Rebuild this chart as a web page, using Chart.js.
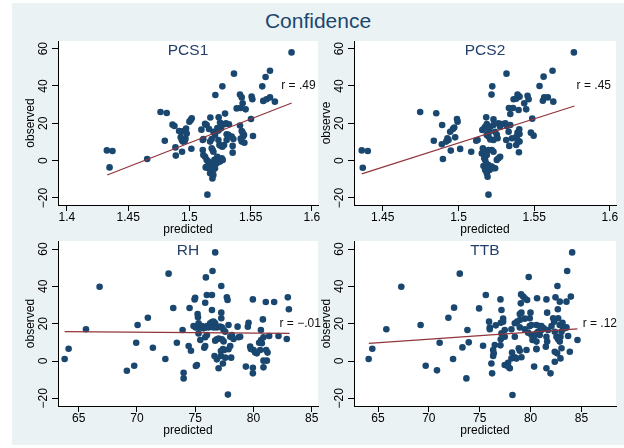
<!DOCTYPE html>
<html><head><meta charset="utf-8">
<script src="https://cdn.jsdelivr.net/npm/chart.js@4/dist/chart.umd.min.js"></script>
<style>
html,body{margin:0;padding:0;width:624px;height:448px;overflow:hidden;background:#ffffff;}
#bg{position:absolute;left:12px;top:3px;width:612px;height:442px;background:#eaf2f3;}
#title{position:absolute;left:12px;width:612px;top:9px;text-align:center;font-family:'Liberation Sans',Arial,sans-serif;font-size:21px;color:#1a476f;line-height:24px;}
canvas{position:absolute;}
</style></head>
<body>
<div id="bg"></div>
<div id="title">Confidence</div>
<canvas id="c1"></canvas><canvas id="c2"></canvas><canvas id="c3"></canvas><canvas id="c4"></canvas>
<script>
// ---------- data ----------
const panelTitles = ['PCS1','PCS2','RH','TTB'];
const rLabels = ['r = .49','r = .45','r = \u2212.01','r = .12'];
const yTitles = ['observed','observe','observed','observed'];
const xTitle = 'predicted';

const yTicks = [-20,0,20,40,60];
const yTickLabels = ['\u221220','0','20','40','60'];
const pcsXTicks = [1.4,1.45,1.5,1.55,1.6];
const pcsXTickLabels = ['1.4','1.45','1.5','1.55','1.6'];
const tempXTicks = [65,70,75,80,85];
const tempXTickLabels = ['65','70','75','80','85'];

const pcs1Pred = [1.5834,1.5364,1.5658,1.5622,1.5595,1.5269,1.5212,1.5413,1.5427,1.5435,1.5508,1.5514,1.5603,1.5630,1.5658,1.5698,1.5386,1.5418,1.5459,1.5503,1.4764,1.4815,1.4326,1.4372,1.4348,1.4655,
1.4862,1.4878,1.4916,1.4932,1.4951,1.4973,1.4978,1.5000,1.5019,1.5011,1.4938,1.4929,1.4946,1.4962,1.4968,1.4799,1.4886,1.4889,1.4940,1.5016,
1.5171,1.5239,1.5291,1.5250,1.5285,1.5299,1.5323,1.5258,1.5228,1.5237,1.5196,1.5209,1.5141,1.5128,1.5098,1.5160,1.5114,1.5109,1.5182,1.5169,1.5237,1.5245,1.5258,1.5269,1.5283,1.5304,1.5304,1.5318,1.5345,1.5359,1.5353,1.5353,1.5413,1.5427,1.5435,1.5446,1.5419,1.5438,1.5427,1.5449,1.5519,
1.5109,1.5114,1.5128,1.5141,1.5155,1.5169,1.5182,1.5190,1.5182,1.5196,1.5204,1.5223,1.5209,1.5196,1.5182,1.5169,1.5155,1.5141,1.5133,1.5223,1.5264,1.5272,1.5250,1.5228,1.5188,1.5196,1.5147];
const pcs1Obs = [58,46.6,48.2,44.8,39.8,39.8,35.2,35.4,33.9,30.7,34.3,32.9,32,32.9,33.9,31.6,28,28.2,27.5,22.3,26.1,25.5,5.5,5.2,-3.6,0.9,
19.3,18.6,15.9,15.4,15.9,17.2,14.5,20.9,22.7,21.8,11.1,12.5,10.2,10.5,11.8,10.7,7.1,2.7,4.8,6.4,
23.1,23.2,25.2,20.4,19.5,20,19.5,17.3,17.5,16.1,15.5,13.8,19.1,19.7,16.6,17,11.6,11.1,11.6,10.2,11.1,8.4,7.9,7.5,8.4,11.1,14.1,13.9,12.9,11.6,7.9,4.3,18.8,15.9,15,13.8,11.8,12.9,10.2,9.6,13.2,
5.7,3,2.1,0.4,-0.5,-1.4,-2.9,5.7,6.6,4.8,0.4,-1.4,-4.1,-5,-5.9,-6.8,-4.1,-3.2,-3.6,1.3,1.3,0.4,-0.5,2.1,-9.5,-7.7,-18.2];

const pcs2Pred = [1.5762,1.5317,1.5621,1.5562,1.5535,1.5626,1.5557,1.5566,1.5590,1.5487,1.4747,1.4853,1.4361,1.4401,1.4368,1.4837,
1.5223,1.5218,1.5364,1.5390,1.5403,1.5381,1.5456,1.5463,1.5434,1.5447,1.5333,1.5360,1.5397,1.5342,
1.4892,1.4945,1.4963,1.4972,1.4990,1.4994,1.4934,1.4919,1.4927,1.4890,1.4949,1.5011,1.4978,1.5084,1.4897,
1.5183,1.5231,1.5264,1.5286,1.5309,1.5320,1.5342,1.5331,1.5275,1.5231,1.5210,1.5187,1.5176,1.5165,1.5157,1.5203,1.5242,1.5253,1.5258,1.5231,1.5210,1.5198,1.5187,1.5126,1.5117,1.5315,1.5353,1.5390,1.5403,1.5383,1.5390,1.5403,1.5401,1.5335,1.5381,1.5399,1.5478,1.5496,
1.5161,1.5165,1.5154,1.5170,1.5176,1.5187,1.5198,1.5183,1.5198,1.5210,1.5165,1.5176,1.5187,1.5192,1.5205,1.5220,1.5231,1.5242,1.5264,1.5275,1.5253,1.5231,1.5220,1.5198];
const pcs2Obs = [58,46.6,48.2,45,40,31.6,32.1,33.9,33.9,22.5,26.1,25.4,5.5,5.2,-3.8,10.7,
39.8,35.4,32.9,35.4,34.3,33.2,34.8,32.9,30.7,27.5,28.2,28.2,27.1,25,
19.1,15.5,17,17.7,22.3,20.9,11.1,10.2,12,8.8,5.4,6.3,12.5,4.8,0.9,
23.2,22.1,20,19.6,20,18.6,19.1,15.5,18.2,19.1,18.2,19.6,18.2,17,16.4,15.5,15.5,13.8,12,11.1,11.4,12.9,13.8,11.1,10.7,11.1,12,15,14.3,12.9,11.1,10.2,16.8,7.9,8.4,4.5,15,13.4,
6.6,5.4,3.9,1.3,0.4,3,5.7,-1.4,-2.3,-3.2,-2.9,-5,-6.8,-8.6,-5,-3.2,-4.1,-4.1,1.3,2.1,0.4,4.8,5.7,-18.2];

const rhPred = [63.8,64.14,65.63,66.8,69.14,69.77,69.94,70.06,70.94,71.37,
76.72,72.72,76.49,75.92,77.24,75.0,74.95,76.0,76.44,77.72,77.78,79.95,81.06,81.78,82.95,83.04,73.12,74.52,75.86,76.44,75.21,75.24,77.24,77.24,75.29,75.29,73.92,73.43,74.44,74.64,75.86,75.78,
74.86,75.04,75.44,75.58,75.72,75.86,76.01,76.15,76.29,76.44,76.58,76.72,76.44,76.58,76.86,77.15,77.29,77.44,77.58,77.86,78.64,79.58,79.52,80.81,80.64,75.44,75.29,75.86,76.01,76.72,76.86,77.01,77.29,77.44,77.38,77.49,77.21,77.86,78.01,78.01,78.15,78.72,78.86,78.29,79.72,79.78,80.01,80.15,80.29,80.58,80.66,80.49,80.72,80.86,81.35,82.15,82.86,81.09,81.21,80.86,81.15,76.66,76.86,77.21,77.58,78.09,77.01,77.38,75.15,75.06,74.01,74.01,72.44,79.35,79.95,79.95,80.86,77.81];
const rhObs = [1.1,6.6,17,39.8,-5.2,-2.5,9.8,19.3,23.2,7.1,
58.2,46.8,48.2,44.8,40.2,33.9,33,35.4,35.4,34.1,32.7,33,31.6,31.6,34.1,27.7,28.4,28.4,31.2,27.3,25.2,23.4,25.9,22.9,20.2,18.8,16.6,9.8,8,5.5,8,7.1,
18.8,18,18,18.8,17.5,18,18.8,18,20.2,20.9,21.1,20.2,18.8,18,18,18.4,18,16.6,15.7,19.3,18.4,20.5,18.4,22.3,16.6,11.3,14.8,12.7,13.9,10.9,11.6,12,11.6,10.5,6.4,5.9,5.4,6.3,8,13,13.9,12.7,13,11.8,7.7,6.4,5.9,4.6,4.1,5.9,11.3,9.8,9.5,12.7,13.4,13.4,11.8,5.9,4.5,0.2,0.2,2.7,0.9,2.7,1.8,1.8,-3.9,-1.3,-2.1,-2.7,-6.3,-9.3,1.1,-3,-3.6,-6.6,-3.4,-18];

const ttbPred = [64.08,64.44,65.82,67.29,69.19,69.69,70.8,71.06,71.92,
84.09,73.04,83.6,79.82,82.64,72.48,74.94,75.6,77.04,79.07,79.27,79.43,79.66,79.04,80.64,81.56,82.45,82.87,83.53,83.96,82.68,82.71,77.14,77.3,77.3,78.94,79.1,79.99,81.63,75.92,75.99,75.99,76.58,77.07,77.46,78.12,78.45,78.68,78.94,79.43,79.92,78.94,79.43,79.92,80.09,80.58,80.9,81.07,79.76,80.09,80.32,80.58,80.74,80.9,81.07,80.19,80.58,80.58,81.56,81.63,81.5,81.3,81.73,82.06,82.22,82.32,82.38,82.55,82.71,82.94,83.04,83.2,83.37,83.53,82.87,83.14,83.69,83.86,82.87,82.38,82.61,82.94,83.04,82.38,81.96,81.56,84.61,77.14,76.48,76.32,76.38,76.32,76.15,76.22,75.33,77.04,78.18,78.45,78.61,79.1,78.12,77.79,77.96,77.46,77.79,80.35,78.84,78.94,79.6,80.58,77.07,77.46,78.45,73.79,73.3,73.92,72.38,73.69,78.22];
const ttbObs = [1.1,6.6,17,39.8,19.3,-2.5,-5,9.8,23.2,
58.2,46.8,48.2,45,40.2,28.6,28.2,35.4,33,35.7,34.5,33.6,32.7,30.9,33.6,33,34.1,31.8,31.8,34.5,27.7,22.9,27.3,22.7,21.1,25.2,25.9,25.9,25.9,21.1,17.9,17,19.1,20.5,16.6,17,20.2,21.1,22,22.7,22.9,18,17,18.8,19.3,19.3,18.8,18.8,15.2,13.9,13,14.8,15.7,13.9,16.6,11.3,10.4,6.3,13,10.4,7.7,17.5,16.6,18.8,22.9,21.1,15.7,13,11.6,13,15.7,18,17.5,18,19.3,20.5,13.4,5,10.4,5,4.1,1.4,6.8,-0.4,-6.6,-3.9,11.3,14.8,8.6,5.9,4.1,2.7,-1.3,-6.6,8.2,8.4,4.5,2,1.3,2,1.4,-0.9,-3.9,-2.1,-3,-3,6.8,5.5,5.9,6.6,11.6,13,13,16.6,7.3,10,1.1,-9.3,-18.2];

// fitted line end points (predicted, observed)
const pcs1FitX = [1.4329,1.5835], pcs1FitY = [-7.7,30.9];
const pcs2FitX = [1.4361,1.5766], pcs2FitY = [-7.1,29.3];
const rhFitX = [63.8,83.1], rhFitY = [15.7,14.8];
const ttbFitX = [64.1,84.6], ttbFitY = [9.5,17.2];

// r annotation anchor (predicted, observed)
const rAnchorX = [1.575,1.578,82.24,85.12];
const rAnchorY = [40,40,20,20];

// axis ranges
const xRanges = [[1.3927,1.605],[1.431,1.604],[63.23,85.54],[62.64,88.4]];
const yRanges = [[-23.75,64.1],[-23.75,64.1],[-24.1,64.3],[-24.1,64.3]];

// ---------- drawing ----------
const FONT = "'Liberation Sans', Arial, sans-serif";
const NAVY = '#1a476f';
const FITC = '#90353b';

const series = [
  [pcs1Pred,pcs1Obs,pcs1FitX,pcs1FitY,pcsXTicks,pcsXTickLabels],
  [pcs2Pred,pcs2Obs,pcs2FitX,pcs2FitY,pcsXTicks,pcsXTickLabels],
  [rhPred,rhObs,rhFitX,rhFitY,tempXTicks,tempXTickLabels],
  [ttbPred,ttbObs,ttbFitX,ttbFitY,tempXTicks,tempXTickLabels]
];
// canvas boxes: left, top, width, height, right padding
const boxes = [[12,21,322,218,16],[308,21,316,218,8],[12,221,322,219,16],[308,221,316,219,8]];

const deco = {
  id:'deco',
  beforeDraw(chart){
    const a = chart.chartArea, ctx = chart.ctx;
    ctx.save(); ctx.fillStyle='#ffffff';
    ctx.fillRect(a.left,a.top,a.right-a.left,a.bottom-a.top); ctx.restore();
  },
  afterDatasetsDraw(chart, args, o){
    const a = chart.chartArea, ctx = chart.ctx;
    ctx.save();
    ctx.font = "15.5px " + FONT; ctx.fillStyle = '#243f6b';
    ctx.textAlign='center'; ctx.textBaseline='alphabetic';
    ctx.fillText(o.title,(a.left+a.right)/2,a.top+14);
    ctx.font = "12px " + FONT; ctx.fillStyle='#111111';
    ctx.textAlign='left'; ctx.textBaseline='middle';
    ctx.fillText(o.r, chart.scales.x.getPixelForValue(o.rx), chart.scales.y.getPixelForValue(o.ry));
    ctx.restore();
  }
};

function axisCommon(){
  return {
    type:'linear',
    grid:{drawOnChartArea:false, drawTicks:true, tickLength:6, color:'#000000', lineWidth:1},
    border:{display:true, color:'#000000', width:1}
  };
}

for (let i=0;i<4;i++){
  const [px,py,fx,fy,xt,xl] = series[i];
  const [L,T,W,H,PR] = boxes[i];
  const cv = document.getElementById('c'+(i+1));
  cv.width=W; cv.height=H; cv.style.left=L+'px'; cv.style.top=T+'px';
  cv.style.width=W+'px'; cv.style.height=H+'px';
  const pts = px.map((v,k)=>({x:v,y:py[k]}));
  const fit = fx.map((v,k)=>({x:v,y:fy[k]}));
  const xs = axisCommon(), ys = axisCommon();
  Object.assign(xs,{
    position:'bottom', min:xRanges[i][0], max:xRanges[i][1],
    afterBuildTicks(s){ s.ticks = xt.filter(v=>v>=s.min && v<=s.max).map(v=>({value:v})); },
    afterFit(s){ s.height = 34; },
    ticks:{font:{family:FONT,size:12}, color:'#000000', padding:-1, maxRotation:0, minRotation:0, autoSkip:false,
      callback(v){ const k = xt.indexOf(v); return k>=0 ? xl[k] : ''; }},
    title:{display:true, text:xTitle, font:{family:FONT,size:12}, color:'#000000', padding:{top:0,bottom:2}}
  });
  Object.assign(ys,{
    position:'left', min:yRanges[i][0], max:yRanges[i][1],
    afterBuildTicks(s){ s.ticks = yTicks.map(v=>({value:v})); },
    afterFit(s){ s.width = 46; },
    ticks:{font:{family:FONT,size:12}, color:'#000000', padding:-2, minRotation:90, maxRotation:90, crossAlign:'center', autoSkip:false,
      callback(v){ const k = yTicks.indexOf(v); return k>=0 ? yTickLabels[k] : ''; }},
    title:{display:true, text:yTitles[i], font:{family:FONT,size:12}, color:'#000000', padding:{top:11.5,bottom:0}}
  });
  new Chart(cv,{
    data:{datasets:[
      {type:'line', data:fit, borderColor:FITC, borderWidth:1.2, pointRadius:0, fill:false, tension:0},
      {type:'scatter', data:pts, backgroundColor:NAVY, borderWidth:0, pointRadius:3.3, pointHoverRadius:3.3}
    ]},
    options:{
      responsive:false, animation:false, devicePixelRatio:1,
      layout:{padding:{top:20,right:PR,bottom:0,left:0}},
      scales:{x:xs, y:ys},
      plugins:{legend:{display:false}, tooltip:{enabled:false},
        deco:{title:panelTitles[i], r:rLabels[i], rx:rAnchorX[i], ry:rAnchorY[i]}},
      events:[]
    },
    plugins:[deco]
  });
}
</script>
</body></html>
